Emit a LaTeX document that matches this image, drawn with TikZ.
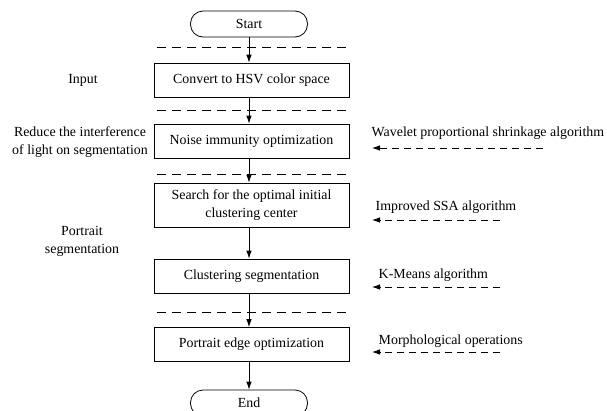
\documentclass[tikz,border=0pt]{standalone}
\usepackage{fontspec}
\setmainfont{Liberation Serif}
\usetikzlibrary{arrows.meta}

\tikzset{
  stepbox/.style={draw, minimum width=195pt, minimum height=34pt, align=center, inner sep=2pt},
  termbox/.style={draw, rounded corners=12.5pt, minimum width=117pt, minimum height=26pt, inner sep=2pt},
  flow/.style={-{Latex[length=8pt,width=5.5pt]}},
  hint/.style={-{Latex[length=8pt,width=5.5pt]}, dash pattern=on 7pt off 5pt},
  sep/.style={dash pattern=on 9pt off 6pt}
}

\begin{document}
\begin{tikzpicture}[x=1pt,y=-1pt,font=\fontsize{13.9}{18}\selectfont,line width=0.8pt]
      \useasboundingbox (0,0) rectangle (607,410);
      \node[termbox] (start) at (249,24) {Start};
      \node[stepbox] (hsv) at (251.5,80) {Convert to HSV color space};
      \node[stepbox] (noise) at (251.5,141) {Noise immunity optimization};
      \node[stepbox, minimum height=44pt] (search) at (251.5,205) {Search for the optimal initial\\clustering center};
      \node[stepbox] (cluster) at (251.5,276) {Clustering segmentation};
      \node[stepbox] (edge) at (251.5,344.5) {Portrait edge optimization};
      \node[termbox] (end) at (249,403) {End};
      \foreach \y in {47,110,174,312}
      \draw[sep] (157,\y) -- (350,\y);
      \foreach \a/\b in {start/hsv,hsv/noise,noise/search,search/cluster,cluster/edge,edge/end}
      \draw[flow] (\a.south -| start) -- (\b.north -| start);
      \node (input) at (83,80) {Input};
      \node[align=center] (light) at (80,142.5) {Reduce the interference\\of light on segmentation};
      \node[align=center] (seg) at (82,241) {Portrait\\segmentation};
      \foreach \n/\tx/\ty/\ay/\ax/\txt in {wav/368/133/148/543/Wavelet proportional shrinkage algorithm,
        ssa/372/207/220/500/Improved SSA algorithm,
        km/375/275/287/500/K-Means algorithm,
        morph/375/341/352/500/Morphological operations} {
      \node[anchor=west] (\n) at (\tx,\ty) {\txt};
      \coordinate (\n-a) at (\ax,\ay);
      \coordinate (\n-b) at (372,\ay);
      \draw[hint] (\n-a) -- (\n-b);
      }
    \end{tikzpicture}
\end{document}
